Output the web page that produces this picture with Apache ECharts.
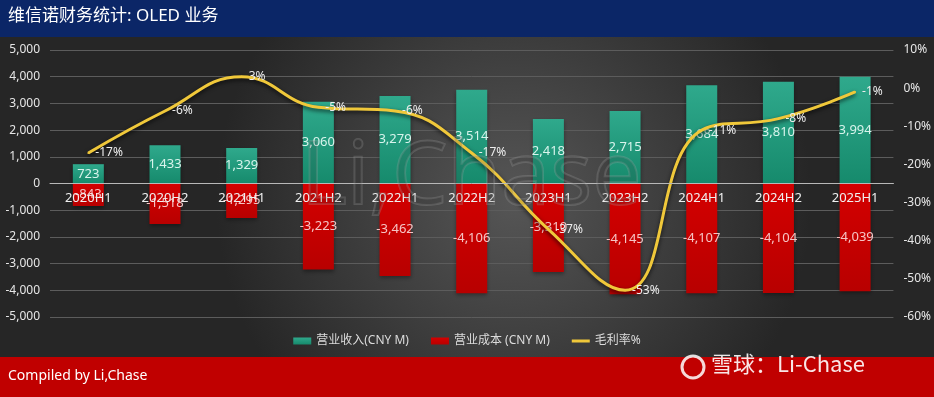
<!DOCTYPE html>
<html>
<head>
<meta charset="utf-8">
<script src="https://cdn.jsdelivr.net/npm/echarts@6/dist/echarts.min.js"></script>
<style>
  html, body { margin: 0; padding: 0; background: #333; }
  #main { width: 934px; height: 397px; }
</style>
</head>
<body>
<div id="main"></div>
<script>
// 半年度数据
var categories = ['2020H1', '2020H2', '2021H1', '2021H2', '2022H1', '2022H2', '2023H1', '2023H2', '2024H1', '2024H2', '2025H1'];
var revenue = [723, 1433, 1329, 3060, 3279, 3514, 2418, 2715, 3684, 3810, 3994];
var cost = [-843, -1518, -1295, -3223, -3462, -4106, -3310, -4145, -4107, -4104, -4039];
var margin = [-17, -6, 3, -5, -6, -17, -37, -53, -11, -8, -1];

var FONT = '"Noto Sans", "Noto Sans CJK SC", sans-serif';
var LINE_COLOR = '#f0c83a';

function fmt(v) {
	return Number(v).toLocaleString('en-US');
}

var chart = echarts.init(document.getElementById('main'));

var option = {
	backgroundColor: {
		type: 'radial', x: 0.55, y: 0.5, r: 0.75,
		colorStops: [
			{ offset: 0, color: '#565656' },
			{ offset: 1, color: '#262626' }
		]
	},
	textStyle: { fontFamily: FONT },
	animation: false,
	grid: { left: 50, right: 39, top: 50, bottom: 80 },
	legend: {
		bottom: 45,
		left: 'center',
		itemWidth: 18,
		itemHeight: 7,
		itemGap: 22,
		textStyle: { color: '#dcdcdc', fontSize: 12, fontFamily: FONT },
		data: [
			{ name: '营业收入(CNY M)', icon: 'rect' },
			{ name: '营业成本 (CNY M)', icon: 'rect' },
			{ name: '毛利率%', icon: 'path://M0,0H18V3H0Z', itemStyle: { color: LINE_COLOR, opacity: 1 } }
		]
	},
	xAxis: {
		type: 'category',
		data: categories,
		axisTick: { show: false },
		axisLine: { onZero: true, onZeroAxisIndex: 0, lineStyle: { color: '#b8b8b8', width: 1 } },
		// 标签放在 0 轴下方
		axisLabel: { color: '#f0f0f0', fontSize: 13, margin: -125 },
		z: 10
	},
	yAxis: [{
		type: 'value',
		min: -5000, max: 5000, interval: 1000,
		axisLabel: { color: '#e6e6e6', fontSize: 12, margin: 10, formatter: fmt },
		splitLine: { lineStyle: { color: '#5c5c5c' } }
	}, {
		type: 'value',
		min: -60, max: 10, interval: 10,
		position: 'right',
		axisLabel: { color: '#e6e6e6', fontSize: 12, margin: 10, formatter: '{value}%' },
		splitLine: { show: false }
	}],
	series: [{
		name: '营业收入(CNY M)',
		type: 'bar',
		stack: 'pl',
		barWidth: 31,
		data: revenue,
		itemStyle: {
			color: {
				type: 'linear', x: 0, y: 0, x2: 0, y2: 1,
				colorStops: [{ offset: 0, color: '#2fa98c' }, { offset: 1, color: '#168a6c' }]
			},
			shadowColor: 'rgba(0,0,0,0.35)', shadowBlur: 4, shadowOffsetY: 2
		},
		label: { show: true, position: 'inside', color: '#d8f4ec', fontSize: 13, formatter: function(p) { return fmt(p.value); } }
	}, {
		name: '营业成本 (CNY M)',
		type: 'bar',
		stack: 'pl',
		barWidth: 31,
		data: cost,
		itemStyle: {
			color: {
				type: 'linear', x: 0, y: 0, x2: 0, y2: 1,
				colorStops: [{ offset: 0, color: '#d40000' }, { offset: 1, color: '#b80000' }]
			},
			shadowColor: 'rgba(0,0,0,0.35)', shadowBlur: 4, shadowOffsetY: 2
		},
		label: { show: true, position: 'inside', color: '#f6c4c4', fontSize: 13, formatter: function(p) { return fmt(p.value); } }
	}, {
		name: '毛利率%',
		type: 'line',
		yAxisIndex: 1,
		smooth: 0.45,
		symbol: 'circle',
		symbolSize: 2,
		showSymbol: true,
		data: margin,
		z: 5,
		lineStyle: {
			color: LINE_COLOR, width: 3,
			shadowColor: 'rgba(0,0,0,0.7)', shadowBlur: 4, shadowOffsetY: 2
		},
		itemStyle: { color: LINE_COLOR },
		label: { show: true, position: 'right', distance: 6, color: '#eeeeee', fontSize: 12, formatter: '{c}%' }
	}],
	graphic: [
		// 顶部标题栏
		{ type: 'rect', left: 0, top: 0, shape: { width: 934, height: 37 }, style: { fill: '#0b2667' }, z: 0 },
		{ type: 'text', left: 8, top: 8, style: { text: '维信诺财务统计: OLED 业务', fill: '#ffffff', font: '17px ' + FONT }, z: 1 },
		// 水印
		{ type: 'text', left: 300, top: 134, silent: true, z: 100,
			style: { text: 'Li,Chase', font: '88px "Open Sans", sans-serif', fill: 'rgba(50,50,50,0.15)', stroke: 'rgba(170,170,170,0.25)', lineWidth: 2 } },
		// 底部栏
		{ type: 'rect', left: 0, top: 357, shape: { width: 934, height: 40 }, style: { fill: '#c00000' }, z: 0 },
		{ type: 'text', left: 8, top: 369, style: { text: 'Compiled by Li,Chase', fill: '#ffffff', font: '14px "Liberation Sans Narrow", "Noto Sans", sans-serif' }, z: 1 },
		{ type: 'circle', shape: { cx: 693, cy: 367, r: 11 }, style: { fill: 'none', stroke: 'rgba(255,255,255,0.85)', lineWidth: 3 }, z: 1 },
		{ type: 'text', left: 711, top: 353, style: { text: '雪球：Li-Chase', fill: 'rgba(255,255,255,0.9)', font: '22px "Noto Sans CJK SC", sans-serif' }, z: 1 }
	]
};

chart.setOption(option);
</script>
</body>
</html>
